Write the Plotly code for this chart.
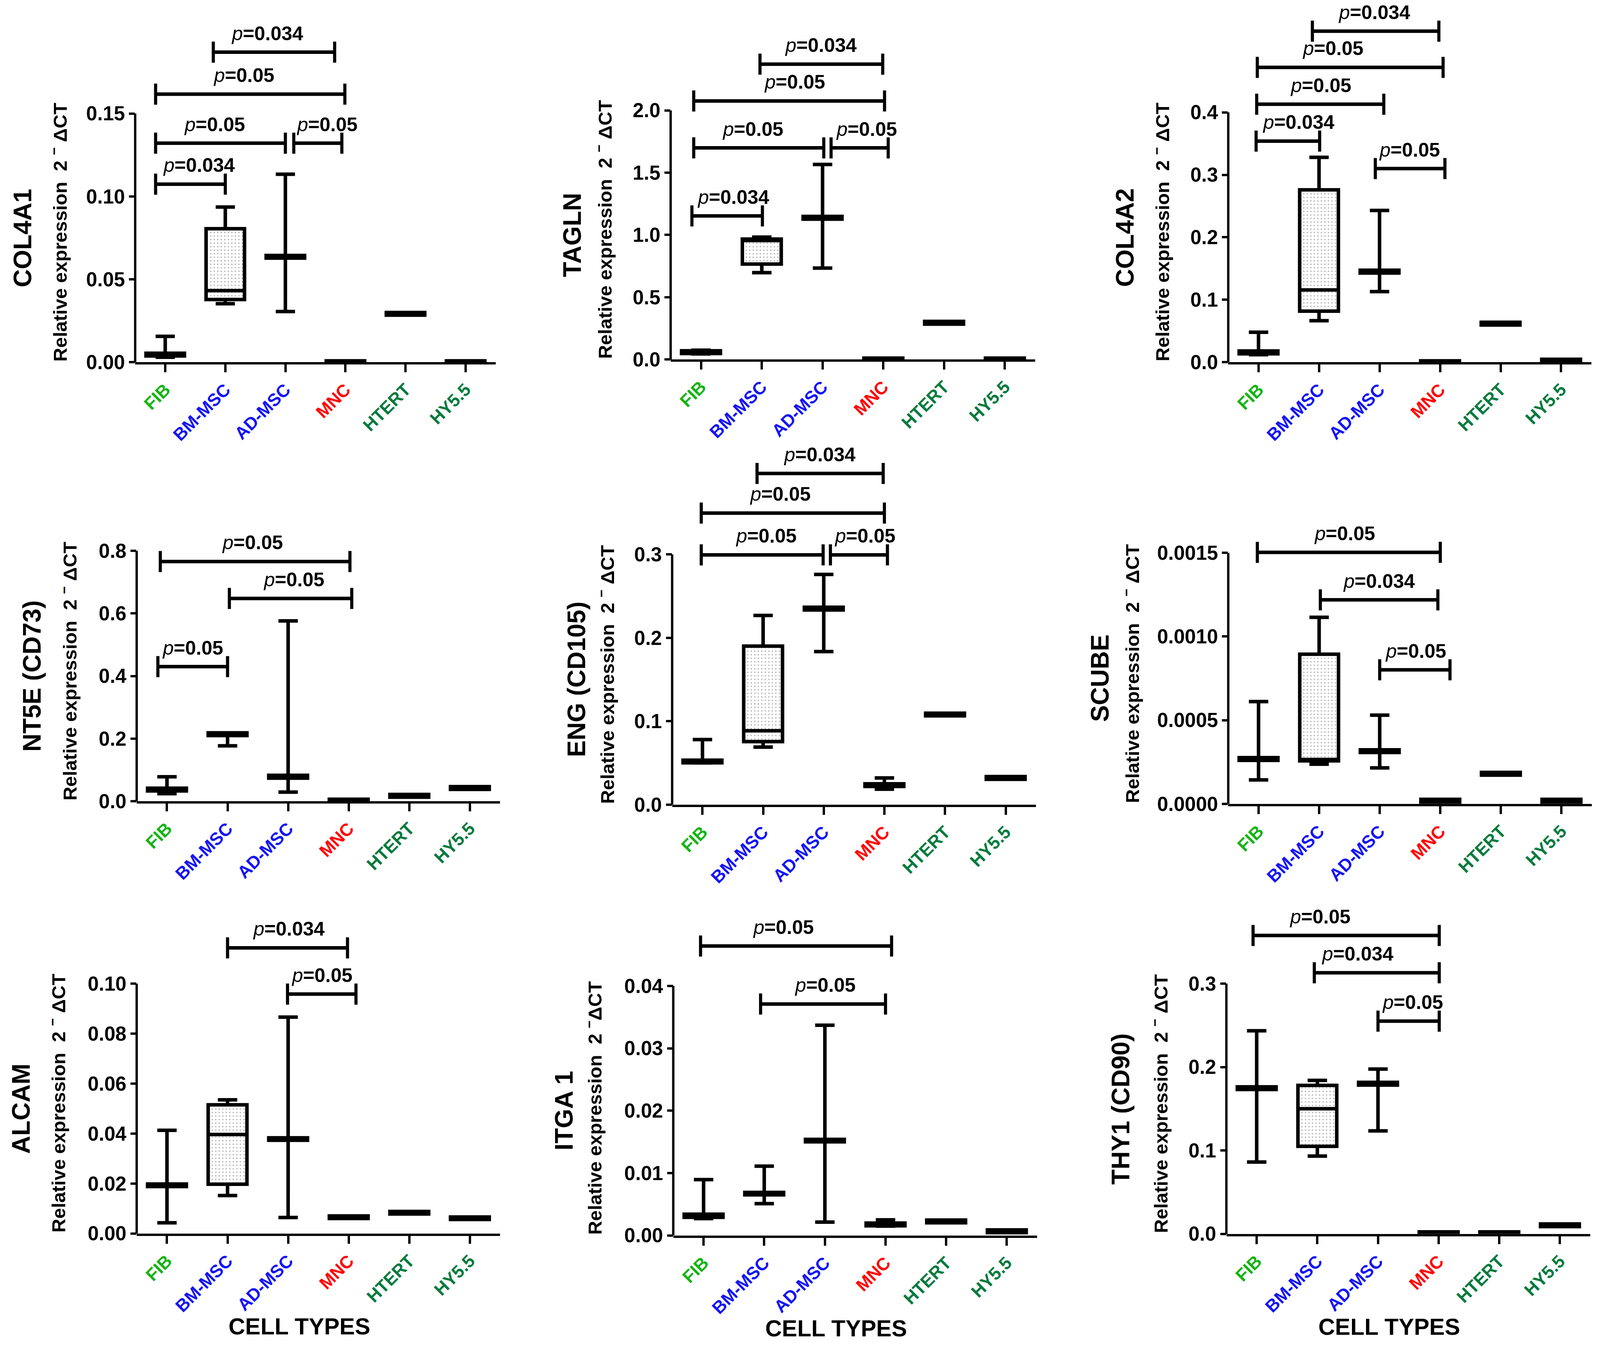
import plotly.graph_objects as go

# ---------------- data ----------------
categories = ["FIB", "BM-MSC", "AD-MSC", "MNC", "HTERT", "HY5.5"]
cat_colors = ["#14b414", "#1414f5", "#1414f5", "#ff0000", "#007a3d", "#007a3d"]

genes = ["COL4A1", "TAGLN", "COL4A2", "NT5E (CD73)", "ENG (CD105)", "SCUBE",
         "ALCAM", "ITGA 1", "THY1 (CD90)"]

# box statistics per gene: min, q1, median, q3, max (order of categories)
COL4A1_min = [0.0030, 0.0353, 0.0306, 0.0000, 0.0284, 0.0000]
COL4A1_q1 = [0.0038, 0.0378, 0.0628, 0.0000, 0.0284, 0.0000]
COL4A1_med = [0.0046, 0.0432, 0.0636, 0.0004, 0.0292, 0.0004]
COL4A1_q3 = [0.0054, 0.0805, 0.0644, 0.0008, 0.0300, 0.0008]
COL4A1_max = [0.0156, 0.0936, 0.1134, 0.0008, 0.0300, 0.0008]

TAGLN_min = [0.045, 0.697, 0.734, 0.000, 0.284, 0.000]
TAGLN_q1 = [0.048, 0.766, 1.127, 0.000, 0.284, 0.000]
TAGLN_med = [0.059, 0.955, 1.138, 0.006, 0.295, 0.006]
TAGLN_q3 = [0.070, 0.967, 1.149, 0.011, 0.306, 0.011]
TAGLN_max = [0.075, 0.983, 1.566, 0.011, 0.306, 0.011]

COL4A2_min = [0.0120, 0.0665, 0.1130, 0.0000, 0.0595, 0.0003]
COL4A2_q1 = [0.0135, 0.0817, 0.1428, 0.0000, 0.0595, 0.0003]
COL4A2_med = [0.0157, 0.1157, 0.1450, 0.0011, 0.0617, 0.0025]
COL4A2_q3 = [0.0180, 0.2760, 0.1472, 0.0022, 0.0639, 0.0047]
COL4A2_max = [0.0480, 0.3280, 0.2430, 0.0022, 0.0639, 0.0047]

NT5E_min = [0.0240, 0.1770, 0.0290, 0.0000, 0.0125, 0.0375]
NT5E_q1 = [0.0325, 0.2095, 0.0735, 0.0000, 0.0125, 0.0375]
NT5E_med = [0.0370, 0.2140, 0.0780, 0.0030, 0.0170, 0.0420]
NT5E_q3 = [0.0415, 0.2185, 0.0825, 0.0060, 0.0215, 0.0465]
NT5E_max = [0.0780, 0.2185, 0.5760, 0.0060, 0.0215, 0.0465]

ENG_min = [0.0500, 0.0690, 0.1835, 0.0185, 0.1064, 0.0304]
ENG_q1 = [0.0501, 0.0755, 0.2334, 0.0218, 0.1064, 0.0304]
ENG_med = [0.0517, 0.0885, 0.2350, 0.0234, 0.1080, 0.0320]
ENG_q3 = [0.0533, 0.1900, 0.2366, 0.0250, 0.1096, 0.0336]
ENG_max = [0.0780, 0.2268, 0.2760, 0.0320, 0.1096, 0.0336]

SCUBE_min = [0.000143, 0.000237, 0.000215, 0.000005, 0.000172, 0.000005]
SCUBE_q1 = [0.000260, 0.000257, 0.000307, 0.000005, 0.000172, 0.000005]
SCUBE_med = [0.000268, 0.000265, 0.000315, 0.000016, 0.000180, 0.000016]
SCUBE_q3 = [0.000276, 0.000894, 0.000323, 0.000027, 0.000188, 0.000027]
SCUBE_max = [0.000611, 0.001115, 0.000530, 0.000027, 0.000188, 0.000027]

ALCAM_min = [0.0043, 0.0152, 0.0064, 0.0060, 0.0078, 0.0056]
ALCAM_q1 = [0.0188, 0.0197, 0.0373, 0.0060, 0.0078, 0.0056]
ALCAM_med = [0.0193, 0.0396, 0.0378, 0.0065, 0.0083, 0.0061]
ALCAM_q3 = [0.0198, 0.0515, 0.0383, 0.0070, 0.0088, 0.0066]
ALCAM_max = [0.0413, 0.0535, 0.0866, 0.0070, 0.0088, 0.0066]

ITGA1_min = [0.00270, 0.00510, 0.00214, 0.00150, 0.00202, 0.00045]
ITGA1_q1 = [0.00290, 0.00650, 0.01500, 0.00154, 0.00202, 0.00045]
ITGA1_med = [0.00314, 0.00670, 0.01520, 0.00176, 0.00224, 0.00067]
ITGA1_q3 = [0.00340, 0.00690, 0.01540, 0.00198, 0.00246, 0.00089]
ITGA1_max = [0.00895, 0.01110, 0.03370, 0.00250, 0.00246, 0.00089]

THY1_min = [0.0861, 0.0932, 0.1235, 0.0000, 0.0000, 0.0087]
THY1_q1 = [0.1731, 0.1050, 0.1784, 0.0000, 0.0000, 0.0087]
THY1_med = [0.1747, 0.1500, 0.1800, 0.0012, 0.0012, 0.0103]
THY1_q3 = [0.1763, 0.1780, 0.1816, 0.0024, 0.0024, 0.0119]
THY1_max = [0.2434, 0.1840, 0.1975, 0.0024, 0.0024, 0.0119]

# y tick values
COL4A1_ticks = [0.0, 0.05, 0.10, 0.15]
TAGLN_ticks = [0.0, 0.5, 1.0, 1.5, 2.0]
COL4A2_ticks = [0.0, 0.1, 0.2, 0.3, 0.4]
NT5E_ticks = [0.0, 0.2, 0.4, 0.6, 0.8]
ENG_ticks = [0.0, 0.1, 0.2, 0.3]
SCUBE_ticks = [0.0, 0.0005, 0.0010, 0.0015]
ALCAM_ticks = [0.0, 0.02, 0.04, 0.06, 0.08, 0.10]
ITGA1_ticks = [0.0, 0.01, 0.02, 0.03, 0.04]
THY1_ticks = [0.0, 0.1, 0.2, 0.3]

# significance brackets: (from, to, level, p value, label centre)
COL4A1_brackets = [(-0.16, 1.00, 0.1074, "0.034", 0.56), (-0.16, 2.00, 0.1321, "0.05", 0.82),
                   (2.14, 2.94, 0.1321, "0.05", 2.69), (-0.16, 2.99, 0.1617, "0.05", 1.31),
                   (0.80, 2.82, 0.1870, "0.034", 1.70)]
TAGLN_brackets = [(-0.15, 1.01, 1.153, "0.034", 0.53), (-0.12, 2.02, 1.699, "0.05", 0.85),
                  (2.14, 3.08, 1.699, "0.05", 2.72), (-0.12, 3.02, 2.076, "0.05", 1.54),
                  (0.97, 2.99, 2.371, "0.034", 1.97)]
COL4A2_brackets = [(-0.04, 1.01, 0.354, "0.034", 0.66), (-0.03, 2.07, 0.413, "0.05", 1.03),
                   (1.93, 3.08, 0.310, "0.05", 2.49), (-0.02, 3.05, 0.472, "0.05", 1.23),
                   (0.89, 2.98, 0.530, "0.034", 1.91)]
NT5E_brackets = [(-0.15, 1.00, 0.430, "0.05", 0.42), (1.03, 3.05, 0.648, "0.05", 2.09),
                 (-0.11, 3.02, 0.766, "0.05", 1.41)]
ENG_brackets = [(-0.02, 1.99, 0.2994, "0.05", 1.05), (2.11, 3.05, 0.2994, "0.05", 2.68),
                (-0.02, 3.00, 0.3495, "0.05", 1.28), (0.90, 2.98, 0.397, "0.034", 1.93)]
SCUBE_brackets = [(-0.02, 3.00, 0.001503, "0.05", 1.42), (1.02, 2.96, 0.001219, "0.034", 1.99),
                  (2.00, 3.16, 0.000801, "0.05", 2.59)]
ALCAM_brackets = [(1.00, 2.98, 0.1143, "0.034", 2.01), (1.99, 3.12, 0.0958, "0.05", 2.56)]
ITGA1_brackets = [(0.94, 3.00, 0.0371, "0.05", 2.00), (-0.05, 3.10, 0.0464, "0.05", 1.31)]
THY1_brackets = [(2.00, 3.01, 0.255, "0.05", 2.57), (0.95, 3.01, 0.313, "0.034", 1.66),
                 (-0.06, 3.01, 0.3577, "0.05", 1.04)]

# ---------------- layout ----------------
REF_W, H = 4261, 3502          # reference geometry
W = 4096                       # usable browser width
SX = W / REF_W
FONT = "Liberation Sans, Arial, Helvetica, sans-serif"
# plot-area boxes in reference pixels: left, right, y of zero, y of top tick
boxes = [(360, 1320, 935, 293), (1786, 2757, 928, 285), (3271, 4238, 935, 290),
         (364, 1332, 2068, 1422), (1790, 2759, 2077, 1431), (3271, 4239, 2075, 1427),
         (364, 1332, 3184, 2539), (1793, 2762, 3189, 2545), (3266, 4235, 3185, 2539)]
row_top = [15, 1150, 2350]
gene_shift = [-300, -261, -275, -279, -254, -341, -308, -291, -281]
rel_shift = [-204, -179, -179, -181, -176, -259, -212, -212, -178]
fmts = [".2f", ".1f", ".1f", ".1f", ".1f", ".4f", ".2f", ".2f", ".1f"]

stats = [
    (COL4A1_min, COL4A1_q1, COL4A1_med, COL4A1_q3, COL4A1_max),
    (TAGLN_min, TAGLN_q1, TAGLN_med, TAGLN_q3, TAGLN_max),
    (COL4A2_min, COL4A2_q1, COL4A2_med, COL4A2_q3, COL4A2_max),
    (NT5E_min, NT5E_q1, NT5E_med, NT5E_q3, NT5E_max),
    (ENG_min, ENG_q1, ENG_med, ENG_q3, ENG_max),
    (SCUBE_min, SCUBE_q1, SCUBE_med, SCUBE_q3, SCUBE_max),
    (ALCAM_min, ALCAM_q1, ALCAM_med, ALCAM_q3, ALCAM_max),
    (ITGA1_min, ITGA1_q1, ITGA1_med, ITGA1_q3, ITGA1_max),
    (THY1_min, THY1_q1, THY1_med, THY1_q3, THY1_max),
]
ticks = [COL4A1_ticks, TAGLN_ticks, COL4A2_ticks, NT5E_ticks, ENG_ticks, SCUBE_ticks,
         ALCAM_ticks, ITGA1_ticks, THY1_ticks]
brackets = [COL4A1_brackets, TAGLN_brackets, COL4A2_brackets, NT5E_brackets, ENG_brackets,
            SCUBE_brackets, ALCAM_brackets, ITGA1_brackets, THY1_brackets]

ticktext = [f"<span style='color:{c}'>{t}</span>" for t, c in zip(categories, cat_colors)]
xpos = list(range(len(categories)))

fig = go.Figure()
layout_axes = {}
for i in range(9):
    n = "" if i == 0 else str(i + 1)
    xa, ya = "x" + n, "y" + n
    L, R, Y0, YT = boxes[i]
    top = row_top[i // 3]
    T = ticks[i][-1]
    yext = T * (Y0 - top) / (Y0 - YT)
    lo, q1, med, q3, hi = stats[i]

    # stippled fill of the interquartile boxes
    fig.add_trace(go.Bar(
        x=xpos, y=[b - a for a, b in zip(q1, q3)], base=q1, width=0.64,
        xaxis=xa, yaxis=ya, showlegend=False, hoverinfo="skip",
        marker=dict(color="white", line=dict(width=0),
                    pattern=dict(shape=".", fgcolor="#555555", bgcolor="white",
                                 size=9, solidity=0.12)),
    ))
    fig.add_trace(go.Box(
        x=xpos, q1=q1, median=med, q3=q3, lowerfence=lo, upperfence=hi,
        width=0.64, whiskerwidth=0.5, boxpoints=False,
        line=dict(color="black", width=9), fillcolor="rgba(0,0,0,0)",
        xaxis=xa, yaxis=ya, showlegend=False, hoverinfo="skip",
    ))

    layout_axes["xaxis" + n] = dict(
        domain=[L / REF_W, R / REF_W], range=[-0.5, 5.5], anchor=ya,
        showline=True, linecolor="black", linewidth=6,
        ticks="outside", ticklen=20, tickwidth=6, tickcolor="black",
        tickvals=xpos, ticktext=ticktext, tickangle=-45,
        tickfont=dict(family=FONT, size=45, weight="bold"),
        showgrid=False, zeroline=False, fixedrange=True,
    )
    layout_axes["yaxis" + n] = dict(
        domain=[1 - Y0 / H, 1 - top / H], range=[0, yext], anchor=xa,
        showline=False, ticks="outside", ticklen=15, tickwidth=6, tickcolor="black",
        tickvals=ticks[i], tickformat=fmts[i],
        tickfont=dict(family=FONT, size=51, weight="bold", color="black"),
        showgrid=False, zeroline=False, fixedrange=True,
    )

    # y axis line only up to the top tick
    fig.add_shape(type="line", xref=xa + " domain", yref=ya, x0=0, x1=0, y0=0, y1=T,
                  line=dict(color="black", width=6))

    # significance brackets
    for (b0, b1, lev, p, tx) in brackets[i]:
        fig.add_shape(type="line", xref=xa, yref=ya, x0=b0, x1=b1, y0=lev, y1=lev,
                      line=dict(color="black", width=9))
        for xe in (b0, b1):
            fig.add_shape(type="line", xref=xa, yref=ya, x0=xe, x1=xe,
                          ysizemode="pixel", yanchor=lev, y0=-27, y1=27,
                          line=dict(color="black", width=8))
        fig.add_annotation(x=tx, y=lev, xref=xa, yref=ya, showarrow=False,
                           text=f"<i>p</i><b>={p}</b>", yanchor="bottom", yshift=18,
                           font=dict(family=FONT, size=50, color="black"))

    # axis titles
    fig.add_annotation(x=0, xref=xa + " domain", xshift=gene_shift[i] * SX, xanchor="center",
                       y=T / 2, yref=ya, yanchor="middle", textangle=-90, showarrow=False,
                       text=f"<b>{genes[i]}</b>",
                       font=dict(family=FONT, size=64, color="black"))
    sep = "" if genes[i] == "ITGA 1" else " "
    fig.add_annotation(x=0, xref=xa + " domain", xshift=rel_shift[i] * SX, xanchor="center",
                       y=0, yref=ya, yanchor="bottom", textangle=-90, showarrow=False,
                       text=f"<b>Relative expression  2 <sup>\u2212</sup>{sep}\u0394CT</b>",
                       font=dict(family=FONT, size=49, color="black"))
    if i >= 6:
        fig.add_annotation(x=0.448, xref=xa + " domain", y=0, yref=ya + " domain",
                           yshift=-238, yanchor="middle", showarrow=False,
                           text="<b>CELL TYPES</b>",
                           font=dict(family=FONT, size=59, color="black"))

fig.update_layout(
    width=W, height=H, margin=dict(l=0, r=0, t=0, b=0),
    paper_bgcolor="white", plot_bgcolor="white",
    barmode="overlay", showlegend=False, **layout_axes,
)
fig.write_html("out.html", config={"displayModeBar": False},
               post_script="document.body.style.margin='0';document.body.style.overflow='hidden';")
